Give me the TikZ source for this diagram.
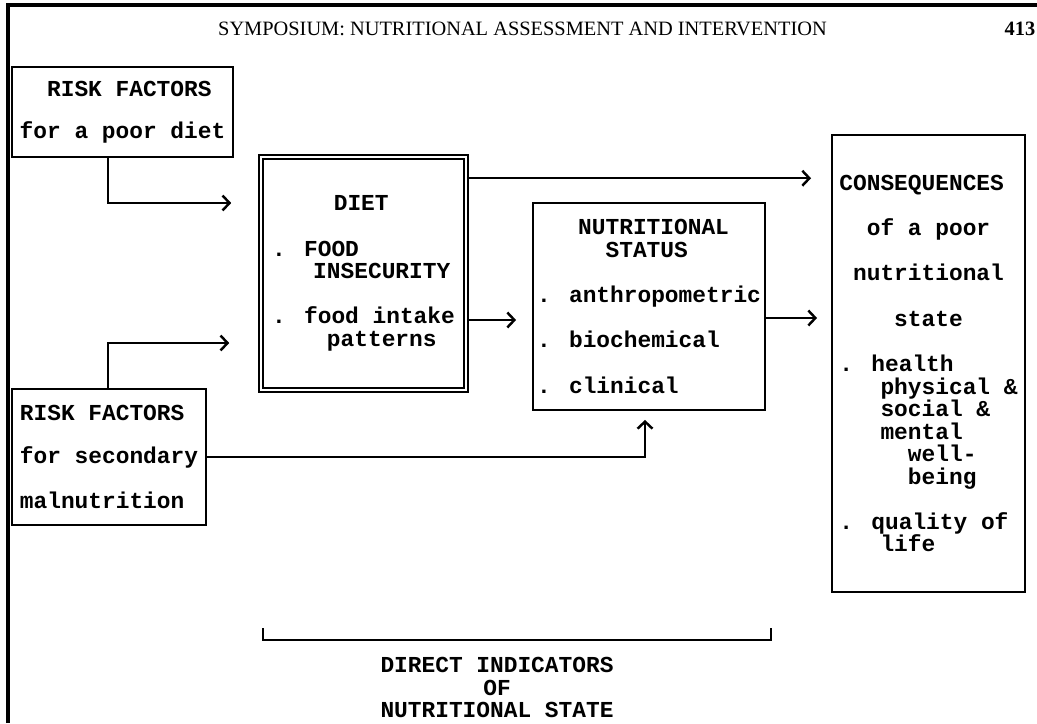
\documentclass[tikz,border=0pt]{standalone}
\usepackage{fontspec}
\setmainfont{Liberation Serif}
\newfontfamily\typew{Liberation Mono}
\usetikzlibrary{arrows.meta,calc}
\newcommand\ind[1]{\hspace*{#1\dimexpr0.6em\relax}}

\begin{document}
\begin{tikzpicture}[x=0.02cm,y=-0.02cm,->,
  >={Straight Barb[length=4pt,width=8.5pt,line width=1.4pt]},line width=0.9pt,
  box/.style={draw,-,line width=1.1pt,inner sep=0pt,align=left,
    font=\typew\bfseries\fontsize{13}{12.8}\selectfont},
  note/.style={align=center,font=\typew\bfseries\fontsize{13}{12.8}\selectfont}]

  \useasboundingbox (0,0) rectangle (1037,723);
  \draw[-,line width=1.8pt] (8,723) -- (8,5) -- (1037,5);

  \node[font=\fontsize{11.6}{13}\selectfont] (head) at (522.5,29)
    {SYMPOSIUM: NUTRITIONAL ASSESSMENT AND INTERVENTION};
  \node[font=\bfseries\fontsize{11.6}{13}\selectfont,anchor=east,inner sep=0pt] (page) at (1036,29) {413};

  \node[box,minimum width=4.42cm,minimum height=1.8cm] (rf1) at (122.5,112)
    {\ind{2}RISK FACTORS\\[11pt] for a poor diet};
  \node[box,minimum width=3.88cm,minimum height=2.72cm] (rf2) at (109,457)
    {RISK FACTORS\\[12pt] for secondary\\[13pt] malnutrition};
  \node[box,double,double distance=1.6pt,line width=0.9pt,
    minimum width=4.1cm,minimum height=4.66cm] (diet) at (363.5,273.5)
    {\ind{4.5}DIET\\[13pt]
     . FOOD\\
     \ind{3}INSECURITY\\[13pt]
     . food intake\\
     \ind{4}patterns};
  \node[box,minimum width=4.64cm,minimum height=4.14cm] (ns) at (649,306.5)
    {\ind{3}NUTRITIONAL\\
     \ind{5}STATUS\\[13pt]
     . anthropometric\\[13pt]
     . biochemical\\[13pt]
     . clinical};
  \node[box,minimum width=3.86cm,minimum height=9.14cm] (cons) at (928.5,363.5)
    {CONSEQUENCES\\[13pt]
     \ind{2}of a poor\\[13pt]
     \ind{1}nutritional\\[13pt]
     \ind{4}state\\[13pt]
     . health\\
     \ind{3}physical \&\\
     \ind{3}social \&\\
     \ind{3}mental\\
     \ind{5}well-\\
     \ind{5}being\\[13pt]
     . quality of\\
     \ind{3}life};

  % arrows into the diet box
  \draw ($(rf1.south)+(-14.5,0)$) |- ($(diet.west)+(-29,-70.5)$);
  \draw ($(rf2.north)+(-1,0)$) |- ($(diet.west)+(-31,69.5)$);

  % arrows to the right
  \coordinate (d1) at ($(diet.north east)+(0,22)$);
  \draw (d1) -- ($(cons.west |- d1)+(-20,0)$);
  \coordinate (d2) at ($(diet.east)+(0,46.5)$);
  \draw (d2) -- ($(ns.west |- d2)+(-16,0)$);
  \coordinate (n1) at ($(ns.east)+(0,11.5)$);
  \draw (n1) -- ($(cons.west |- n1)+(-14,0)$);
  \draw (rf2.east) -| ($(ns.south)+(-4,9)$);

  % bracket
  \draw[-] (263,628) |- (771,640) -- (771,628);
  \node[note] (direct) at (497,687.5) {DIRECT INDICATORS\\OF\\NUTRITIONAL STATE};

\end{tikzpicture}
\end{document}
